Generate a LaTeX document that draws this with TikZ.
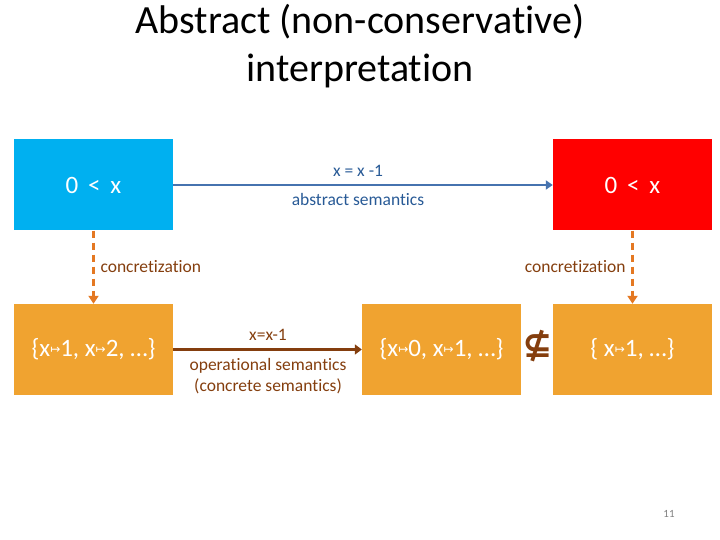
\documentclass[tikz,border=0pt]{standalone}
\usepackage{fontspec}
\setmainfont[Ligatures=NoCommon]{Carlito}
\newfontfamily\symfont{DejaVu Sans}
\usetikzlibrary{arrows.meta}
\definecolor{cblue}{RGB}{0,176,240}
\definecolor{cred}{RGB}{255,0,0}
\definecolor{corange}{RGB}{240,163,48}
\definecolor{cdash}{RGB}{228,120,34}
\definecolor{cbrown}{RGB}{132,62,14}
\definecolor{carrow}{RGB}{70,115,175}
\definecolor{clabel}{RGB}{40,90,150}
\newcommand{\mto}{\raisebox{0.3ex}{\symfont\fontsize{12}{12}\selectfont ↦}}
\tikzset{
  box/.style={rectangle, minimum width=159pt, minimum height=91pt, inner sep=0pt, text=white, font=\fontsize{25}{29}\selectfont},
  conc/.style={draw=cdash, line width=2.2pt, dash pattern=on 7pt off 5pt, -{Triangle[width=10pt,length=8pt]}},
  lab/.style={font=\fontsize{17.5}{21}\selectfont},
}
\begin{document}
\begin{tikzpicture}[x=1pt,y=-1pt]
\useasboundingbox (0,0) rectangle (720,540);
\node[font=\fontsize{40}{48}\selectfont, align=center] (title) at (360,46) {Abstract (non-conservative)\\interpretation};
\node[box, fill=cblue] (a1) at (93.5,185) {0 \,<\, x};
\node[box, fill=cred] (a2) at (632.5,185) {0 \,<\, x};
\node[box, fill=corange] (c1) at (93.5,349.5) {\{x\mto1, x\mto2, …\}};
\node[box, fill=corange] (c2) at (441.5,349.5) {\{x\mto0, x\mto1, …\}};
\node[box, fill=corange] (c3) at (632.5,349.5) {\{ x\mto1, …\}};
\draw[carrow, line width=2.5pt, -{Triangle[width=9pt,length=7pt]}] (a1.east) -- (a2.west);
\node[lab, text=clabel] (l1) at (358,171) {x = x -1};
\node[lab, text=clabel] (l2) at (358,199) {abstract semantics};
\draw[conc] (a1.south) -- (c1.north);
\draw[conc] (a2.south) -- (c3.north);
\node[lab, text=cbrown, anchor=west] (k1) at (97,267) {concretization};
\node[lab, text=cbrown, anchor=east] (k2) at (629,267) {concretization};
\draw[cbrown, line width=3pt, -{Triangle[width=10pt,length=7pt]}] (c1.east) -- (c2.west);
\node[lab, text=cbrown] (o1) at (268,335) {x=x-1};
\node[lab, text=cbrown, align=center] (o2) at (268,376) {operational semantics\\(concrete semantics)};
\node[text=cbrown, font=\symfont\bfseries\fontsize{36}{38}\selectfont] (ns) at (538,346) {⊈};
\node[text=gray, font=\fontsize{11}{13}\selectfont] (pg) at (669,514) {11};
\end{tikzpicture}
\end{document}
